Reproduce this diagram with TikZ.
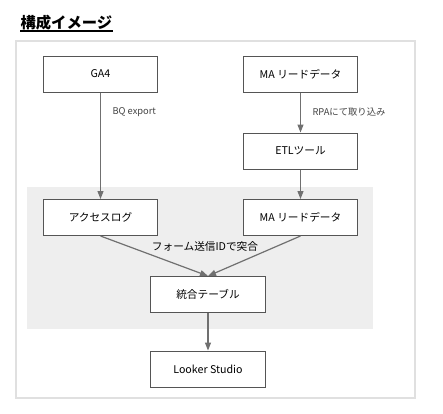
\documentclass[tikz,border=0pt]{standalone}
\usepackage{fontspec}
\setmainfont{Noto Sans CJK JP}
\usetikzlibrary{arrows.meta}
\definecolor{boxline}{HTML}{555555}
\definecolor{arrowgray}{HTML}{707070}
\definecolor{framegray}{HTML}{E0E0E0}
\definecolor{panelgray}{HTML}{EEEEEE}
\definecolor{labelgray}{HTML}{444444}

\tikzset{every picture/.style={line width=0.75pt}}

\begin{document}
\begin{tikzpicture}[x=0.75pt,y=0.75pt,yscale=-1,xscale=1,
  databox/.style={draw=boxline, fill=white, minimum width=86pt, minimum height=27pt, inner sep=0.75pt, font=\fontsize{8}{9}\selectfont},
  flow/.style={draw=arrowgray, line width=0.9pt, -{Triangle[length=6pt,width=4.5pt]}},
  flowlabel/.style={inner sep=0.75pt, text=labelgray, font=\fontsize{7}{8}\selectfont}]
	\useasboundingbox (0,0) rectangle (443,414);
	
	% Title
	\node (title) [anchor=base west, inner sep=0pt, font=\fontsize{11.5}{13}\selectfont\bfseries] at (20,28) {構成イメージ};
	\coordinate (ulLeft) at (20,31);
	\coordinate (ulRight) at (title.base east |- ulLeft);
	\draw [line width=1.1pt] (ulLeft) -- (ulRight);
	
	% Frame and panel
	\draw [framegray, line width=1.1pt] (16,41) rectangle (415,398);
	\fill [panelgray] (27,187) rectangle (373,329);
	
	% Boxes
	\node (ga4) [databox] at (100.5,74) {GA4};
	\node (maSource) [databox] at (300.5,74) {MA リードデータ};
	\node (etl) [databox] at (300.5,151) {ETLツール};
	\node (accessLog) [databox] at (100.5,217.5) {アクセスログ};
	\node (maLead) [databox] at (300.5,217.5) {MA リードデータ};
	\node (merged) [databox] at (208,294.5) {統合テーブル};
	\node (looker) [databox] at (208,369) {Looker Studio};
	
	% Connectors
	\draw [flow] (ga4) -- (accessLog);
	\draw [flow] (maSource) -- (etl);
	\draw [flow] (etl) -- (maLead);
	\draw [flow] (accessLog.south) -- (merged.north);
	\draw [flow] (maLead.south) -- (merged.north);
	\draw [flow] (merged) -- (looker);
	
	% Text Node
	\node (bqLabel) [flowlabel, anchor=west] at (111,112) {BQ export};
	% Text Node
	\node (rpaLabel) [flowlabel, anchor=west] at (311,112) {RPAにて取り込み};
	% Text Node
	\node (joinLabel) [inner sep=0.75pt, font=\fontsize{8}{9}\selectfont] at (205,246) {フォーム送信IDで突合};
	
\end{tikzpicture}
\end{document}
